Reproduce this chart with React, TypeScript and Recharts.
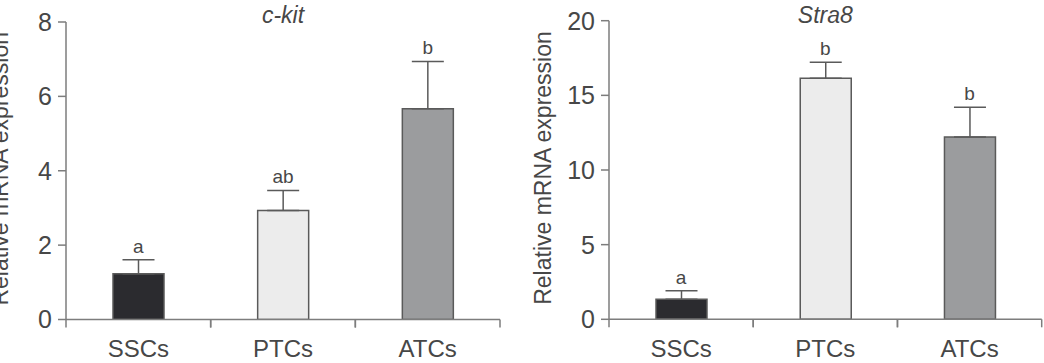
import React from 'react';
import {
  ComposedChart,
  Bar,
  Cell,
  Line,
  XAxis,
  YAxis,
  ErrorBar,
  LabelList,
} from 'recharts';

// ─── Data ─────────────────────────────────────────────────────────────────────

const groups = ['SSCs', 'PTCs', 'ATCs'];

const ckitValues = [1.23, 2.93, 5.67];
const ckitErrors = [0.38, 0.54, 1.27];
const ckitLetters = ['a', 'ab', 'b'];
const ckitTicks = [0, 2, 4, 6, 8];

const stra8Values = [1.34, 16.14, 12.21];
const stra8Errors = [0.58, 1.07, 1.99];
const stra8Letters = ['a', 'b', 'b'];
const stra8Ticks = [0, 5, 10, 15, 20];

// ─── Style ────────────────────────────────────────────────────────────────────

const BAR_COLORS = ['#2b2b2f', '#ececec', '#9b9c9e'];
const COLOR_STROKE = '#5a5a5a';
const COLOR_AXIS = '#7d7d7d';
const COLOR_TEXT = '#474747';
const FONT = '"Liberation Sans", Arial, Helvetica, sans-serif';
const FONT_SIZE = 23;
const TICK_SIZE = 25;
const Y_AXIS_W = 60;

function buildRows(values: number[], errors: number[], letters: string[]) {
  return groups.map((g, i) => ({
    name: g,
    value: values[i],
    err: [0, errors[i]],
    top: values[i] + errors[i],
    letter: letters[i],
  }));
}

// x tick: label plus boundary ticks between categories
function makeXTick(band: number) {
  return function XTick(props: any) {
    const { x, y, payload } = props;
    return (
      <g>
        <line x1={x - band / 2} x2={x - band / 2} y1={y} y2={y + 8} stroke={COLOR_AXIS} strokeWidth={1.5} />
        <line x1={x + band / 2} x2={x + band / 2} y1={y} y2={y + 8} stroke={COLOR_AXIS} strokeWidth={1.5} />
        <text
          x={x}
          y={y + 29}
          textAnchor="middle"
          dominantBaseline="central"
          fill={COLOR_TEXT}
          fontSize={24}
          fontFamily={FONT}
        >
          {payload.value}
        </text>
      </g>
    );
  };
}

function YTitle(props: any) {
  const { viewBox } = props;
  const cx = viewBox.x + viewBox.width - 66;
  const cy = viewBox.y + viewBox.height / 2 - 2;
  return (
    <text
      x={cx}
      y={cy}
      transform={`rotate(-90, ${cx}, ${cy})`}
      textAnchor="middle"
      dominantBaseline="central"
      fill={COLOR_TEXT}
      fontSize={FONT_SIZE}
      fontFamily={FONT}
    >
      Relative mRNA expression
    </text>
  );
}

interface PanelProps {
  title: string;
  rows: ReturnType<typeof buildRows>;
  ticks: number[];
  left: number;
  width: number;
  margin: { top: number; right: number; left: number; bottom: number };
}

function Panel({ title, rows, ticks, left, width, margin }: PanelProps) {
  const height = 363;
  const plotW = width - margin.left - margin.right - Y_AXIS_W;
  const band = plotW / groups.length;
  const titleX = left + margin.left + Y_AXIS_W + plotW / 2;

  return (
    <>
      <div
        style={{
          position: 'absolute',
          left: titleX - 100,
          top: 0,
          width: 200,
          textAlign: 'center',
          fontFamily: FONT,
          fontSize: FONT_SIZE,
          fontStyle: 'italic',
          color: COLOR_TEXT,
          lineHeight: '30px',
        }}
      >
        {title}
      </div>
      <div style={{ position: 'absolute', left, top: 0 }}>
        <ComposedChart width={width} height={height} data={rows} margin={margin}>
          <XAxis
            dataKey="name"
            height={30}
            axisLine={{ stroke: COLOR_AXIS, strokeWidth: 1.5 }}
            tickLine={false}
            tickSize={0}
            tickMargin={0}
            tick={makeXTick(band)}
            interval={0}
          />
          <YAxis
            width={Y_AXIS_W}
            domain={[0, ticks[ticks.length - 1]]}
            ticks={ticks}
            allowDataOverflow
            axisLine={{ stroke: COLOR_AXIS, strokeWidth: 1.5 }}
            tickLine={{ stroke: COLOR_AXIS, strokeWidth: 1.5 }}
            tickSize={8}
            tickMargin={6}
            tick={{ fill: COLOR_TEXT, fontSize: TICK_SIZE, fontFamily: FONT }}
            label={<YTitle />}
          />
          <Bar
            dataKey="value"
            barSize={51}
            stroke={COLOR_STROKE}
            strokeWidth={1.5}
            isAnimationActive={false}
          >
            {rows.map((r, i) => (
              <Cell key={r.name} fill={BAR_COLORS[i]} />
            ))}
            <ErrorBar dataKey="err" width={16} stroke={COLOR_STROKE} strokeWidth={1.5} direction="y" />
          </Bar>
          <Line dataKey="top" stroke="none" dot={false} activeDot={false} isAnimationActive={false}>
            <LabelList
              dataKey="letter"
              position="top"
              offset={7}
              fill={COLOR_TEXT}
              fontSize={19}
              fontFamily={FONT}
            />
          </Line>
        </ComposedChart>
      </div>
    </>
  );
}

export default function App() {
  return (
    <div
      style={{
        position: 'absolute',
        left: 0,
        top: 0,
        width: 1044,
        height: 363,
        overflow: 'hidden',
        background: '#fff',
      }}
    >
      <Panel
        title="c-kit"
        rows={buildRows(ckitValues, ckitErrors, ckitLetters)}
        ticks={ckitTicks}
        left={0}
        width={510}
        margin={{ top: 22, right: 10, left: 6, bottom: 13.5 }}
      />
      <Panel
        title="Stra8"
        rows={buildRows(stra8Values, stra8Errors, stra8Letters)}
        ticks={stra8Ticks}
        left={510}
        width={534}
        margin={{ top: 20.7, right: 2.3, left: 39, bottom: 13.7 }}
      />
    </div>
  );
}
